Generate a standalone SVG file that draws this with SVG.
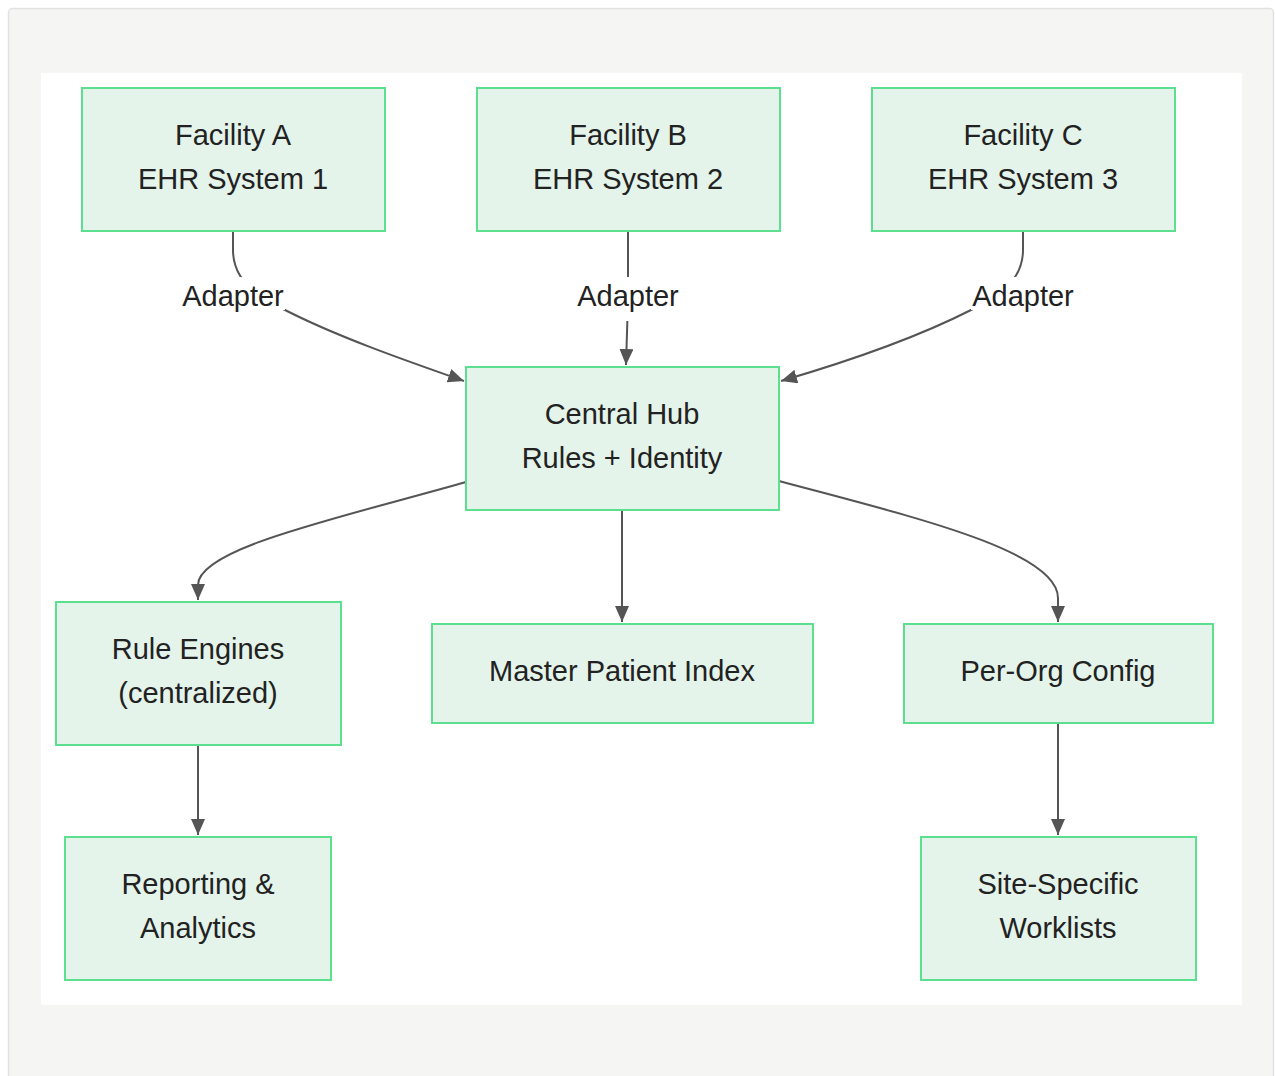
<svg xmlns="http://www.w3.org/2000/svg" width="1275" height="1076" viewBox="0 0 1275 1076">
<style>
.node rect{fill:#e4f4ea;stroke:#5ce08f;stroke-width:2}
text{font-family:"Liberation Sans",Arial,sans-serif;font-size:29px;fill:#222;text-anchor:middle}
.edge{fill:none;stroke:#555;stroke-width:2}
.lbl rect{fill:#fff}
</style>
<defs>
<marker id="arr" viewBox="0 0 16 14" refX="16" refY="7" markerWidth="16" markerHeight="14" markerUnits="userSpaceOnUse" orient="auto">
<path d="M0,0 L16,7 L0,14 z" fill="#555"/>
</marker>
</defs>
<rect x="8.5" y="8.5" width="1265" height="1080" rx="4" fill="#f5f5f4" stroke="#e2e2e2" stroke-width="1.5"/>
<rect x="41" y="73" width="1201" height="932" fill="#ffffff"/>
<g id="connectors">
<path class="edge" d="M233,231 L233,250 C233,275 250,295 285,310 C340,338 410,362 464,381" marker-end="url(#arr)"/>
<path class="edge" d="M628,231 L628,300 L626,365" marker-end="url(#arr)"/>
<path class="edge" d="M1023,231 L1023,250 C1023,275 1006,295 971,310 C916,338 846,362 781,381" marker-end="url(#arr)"/>
<path class="edge" d="M466,482 C340,518 198,548 198,585 L198,600" marker-end="url(#arr)"/>
<path class="edge" d="M622,510 L622,622" marker-end="url(#arr)"/>
<path class="edge" d="M779,481 C905,515 1058,550 1058,598 L1058,622" marker-end="url(#arr)"/>
<path class="edge" d="M198,745 L198,835" marker-end="url(#arr)"/>
<path class="edge" d="M1058,723 L1058,835" marker-end="url(#arr)"/>
<g class="lbl"><rect x="181" y="277" width="104" height="33"/><text x="233" y="306">Adapter</text></g>
<g class="lbl"><rect x="576" y="277" width="104" height="44"/><text x="628" y="306">Adapter</text></g>
<g class="lbl"><rect x="971" y="277" width="104" height="33"/><text x="1023" y="306">Adapter</text></g>
</g>
<g id="facA" class="node"><rect x="82" y="88" width="303" height="143"/><text x="233" y="145">Facility A</text><text x="233" y="189">EHR System 1</text></g>
<g id="facB" class="node"><rect x="477" y="88" width="303" height="143"/><text x="628" y="145">Facility B</text><text x="628" y="189">EHR System 2</text></g>
<g id="facC" class="node"><rect x="872" y="88" width="303" height="143"/><text x="1023" y="145">Facility C</text><text x="1023" y="189">EHR System 3</text></g>
<g id="hub" class="node"><rect x="466" y="367" width="313" height="143"/><text x="622" y="424">Central Hub</text><text x="622" y="468">Rules + Identity</text></g>
<g id="rules" class="node"><rect x="56" y="602" width="285" height="143"/><text x="198" y="659">Rule Engines</text><text x="198" y="703">(centralized)</text></g>
<g id="mpi" class="node"><rect x="432" y="624" width="381" height="99"/><text x="622" y="681">Master Patient Index</text></g>
<g id="config" class="node"><rect x="904" y="624" width="309" height="99"/><text x="1058" y="681">Per-Org Config</text></g>
<g id="reporting" class="node"><rect x="65" y="837" width="266" height="143"/><text x="198" y="894">Reporting &amp;</text><text x="198" y="938">Analytics</text></g>
<g id="worklists" class="node"><rect x="921" y="837" width="275" height="143"/><text x="1058" y="894">Site-Specific</text><text x="1058" y="938">Worklists</text></g>
</svg>
